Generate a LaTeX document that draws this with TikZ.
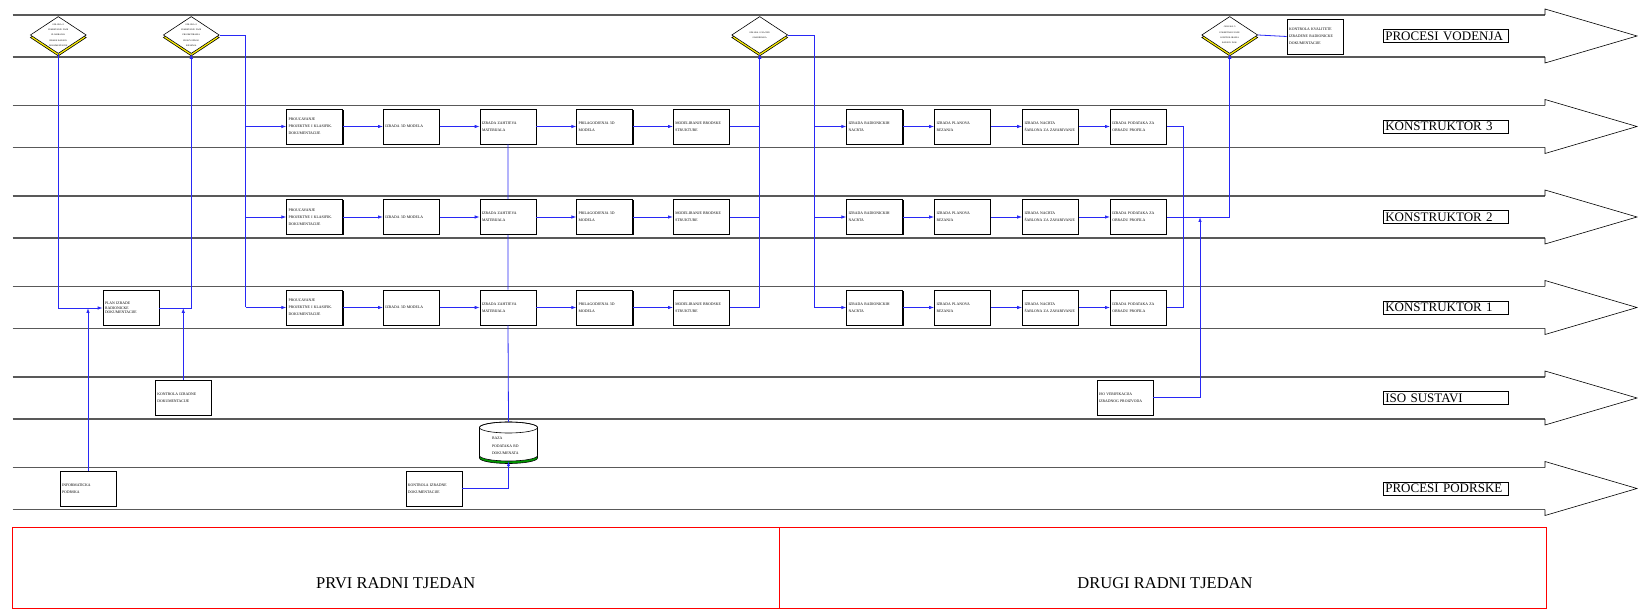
\documentclass[tikz,border=0pt]{standalone}
\usepackage{fontspec}
\setmainfont{Liberation Serif}
\usetikzlibrary{arrows.meta,calc,positioning,shapes.geometric,shadows}
\definecolor{flowblue}{RGB}{40,40,245}

\begin{document}
\begin{tikzpicture}[x=1pt,y=-1pt,
 lane/.style={draw=black!65,line width=1.3pt},
 lanehead/.style={draw=black,line width=0.6pt},
 lanelabel/.style={draw=black,line width=0.6pt,inner sep=2pt,text width=121pt,align=left,anchor=west,font=\fontsize{13}{15}\selectfont},
 task/.style={draw=black,fill=white,line width=0.6pt,minimum width=56pt,minimum height=35pt,inner sep=2pt,text width=52pt,align=left,font=\fontsize{3.8}{7.2}\selectfont,drop shadow={shadow xshift=0.9pt,shadow yshift=-0.9pt,fill=black,opacity=1}},
 decision/.style={diamond,draw=black,fill=white,line width=0.6pt,aspect=1.5,inner sep=0pt,minimum width=56pt,minimum height=37pt,text width=21pt,align=center,font=\fontsize{2.2}{5.3}\selectfont,drop shadow={shadow xshift=0pt,shadow yshift=-2.5pt,fill=yellow,draw=black,opacity=1}},
 store/.style={minimum width=58pt,minimum height=39pt,inner sep=0pt},
 storetext/.style={text width=33pt,align=left,inner sep=0pt,yshift=-4.5pt,font=\fontsize{3.8}{7.4}\selectfont},
 link/.style={draw=flowblue,line width=0.8pt},
 flow/.style={link,-{Latex[length=5pt,width=3.5pt]}},
 week/.style={font=\fontsize{16.5}{19}\selectfont}]

 \useasboundingbox (0,0) rectangle (1638,609);

 \foreach \yc/\txt [count=\k] in {36/PROCESI VODENJA,126.5/KONSTRUKTOR 3,217/KONSTRUKTOR 2,307.5/KONSTRUKTOR 1,398/ISO SUSTAVI,488.5/PROCESI PODRSKE}{
   \draw[lane] (12.5,\yc-21) -- (1545,\yc-21);
   \draw[lane] (12.5,\yc+21) -- (1545,\yc+21);
   \draw[lanehead] (1545,\yc-21) -- (1545,\yc-27) -- (1637,\yc) -- (1545,\yc+27) -- (1545,\yc+21);
   \node[lanelabel] (lbl\k) at (1383,\yc) {\txt};
 }

 \node[decision] (dec1) at (58.3,35) {ODLUKA O\\POKRETANJU FAZE\\PLANIRANJA\\IZRADE RADION.\\DOKUMENTACIJE};
 \node[decision] (dec2) at (191.3,35) {ODLUKA O\\POKRETANJU FAZE\\PROJEKTIRANJA\\PROIZVODNOG\\RJESENJA};
 \node[decision] (dec3) at (759.7,35) {ODLUKA O NACINU\\GRADIRANJA};
 \node[decision] (dec4) at (1229.7,35) {ODLUKA O\\POKRETANJU FAZE\\KONTROLIRANJA\\RADION. DOK.};
 \node[task] (qc) at (1315,36.5) {KONTROLA KVALITETE\\IZRADENE RADIONICKE\\DOKUMENTACIJE};

 \foreach \r/\yr in {3/126.5,2/217,1/307.5}{
   \foreach \xi/\txt [count=\i] in {314.7/{PROUCAVANJE\\PROJEKTNE I KLASIFIK.\\DOKUMENTACIJE},411.3/{IZRADA 3D MODELA},508/{IZRADA ZAHTJEVA\\MATERIJALA},604.7/{PRILAGODJENJA 3D\\MODELA},701.3/{MODELIRANJE BRODSKE\\STRUKTURE},874.7/{IZRADA RADIONICKIH\\NACRTA},962.5/{IZRADA PLANOVA\\REZANJA},1050.5/{IZRADA NACRTA\\ŠABLONA ZA ZAVARIVANJE},1138.3/{IZRADA PODATAKA ZA\\OBRADU PROFILA}}
     \node[task] (t\r-\i) at (\xi,\yr) {\txt};
 }

 \node[task,font=\fontsize{3.8}{4.6}\selectfont] (plan) at (131,308) {PLAN IZRADE\\RADIONICKE\\DOKUMENTACIJE};
 \node[task] (ctrlA) at (183.3,397.5) {KONTROLA IZRADNE\\DOKUMENTACIJE};
 \node[task] (iso) at (1125,397.5) {ISO VERIFIKACIJA\\IZRADNOG PROIZVODA};
 \node[task] (info) at (88,488.5) {INFORMATICKA\\PODRSKA};
 \node[task] (ctrlB) at (433.8,488.5) {KONTROLA IZRADNE\\DOKUMENTACIJE};

 % baza podataka
 \coordinate (dbc) at (508.5,441.5);
 \foreach \dy/\col in {2.5/green!60!black,0/white}
   \draw[fill=\col,line width=0.6pt] ($(dbc)+(-29,-14+\dy)$) -- ($(dbc)+(-29,14+\dy)$)
     arc[start angle=180,end angle=360,x radius=29pt,y radius=5.5pt] -- ($(dbc)+(29,-14+\dy)$)
     arc[start angle=0,end angle=180,x radius=29pt,y radius=5.5pt] -- cycle;
 \draw[line width=0.6pt] ($(dbc)+(0,-14)$) ellipse[x radius=29pt,y radius=5.5pt];
 \node[store,label={[storetext]center:{BAZA\\PODATAKA RD\\DOKUMENATA}}] (db) at (dbc) {};

 \coordinate (split1) at ($(dec2.east)+(26,0)$);
 \coordinate (split2) at ($(dec3.east)+(26,0)$);
 \coordinate (bus) at (1183.5,217);
 \coordinate (isojoin) at (1200,217);

 \draw[flow] (dec1.south) |- (plan.west);
 \draw[flow] (info.north) -- (info.north |- plan.west);
 \draw[flow] (plan.east) -| (dec2.south);
 \draw[flow] (ctrlA.north) -- (ctrlA.north |- plan.east);
 \draw[link] (dec2.east) -- (split1) -- (split1 |- t1-1.west);
 \draw[link] (dec3.east) -- (split2) -- (split2 |- t1-6.west);
 \foreach \r in {1,2,3}{
   \draw[flow] (split1 |- t\r-1.west) -- (t\r-1.west);
   \draw[flow] (split2 |- t\r-6.west) -- (t\r-6.west);
   \draw[link] (t\r-5.east) -- (t\r-5.east -| dec3.south);
   \foreach \i/\j in {1/2,2/3,3/4,4/5,6/7,7/8,8/9}
     \draw[flow] (t\r-\i) -- (t\r-\j);
 }
 \draw[flow] (dec3.south |- t1-5.east) -- (dec3.south);
 \draw[link] (t3-9.east) -| (bus) |- (t1-9.east);
 \draw[flow] (t2-9.east) -| (dec4.south);
 \draw[flow] (iso.east) -| (isojoin);
 \draw[link] (dec4.east) -- (qc.west);
 \draw[link] (t3-3.south) -- (t2-3.north) (t2-3.south) -- (t1-3.north) (t1-3.south) -- (db.north);
 \draw[flow] (ctrlB.east) -| (db.south);

 \draw[red,line width=0.6pt] (12.5,527.5) rectangle (1546,608.5);
 \draw[red,line width=0.6pt] (779,527.5) -- (779,608.5);
 \node[week] (week1) at (395.7,583) {PRVI RADNI TJEDAN};
 \node[week] (week2) at (1165,583) {DRUGI RADNI TJEDAN};
\end{tikzpicture}
\end{document}
